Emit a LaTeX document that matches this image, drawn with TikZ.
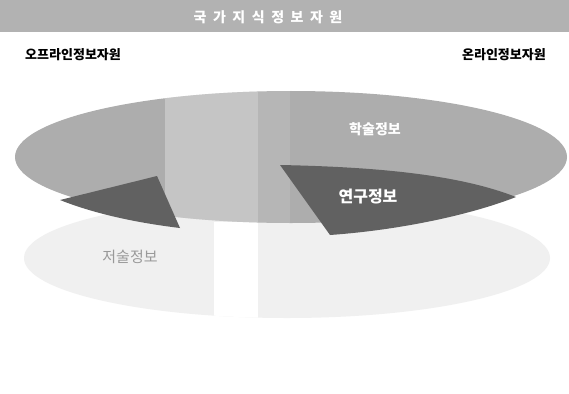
\documentclass[tikz,border=0pt]{standalone}
\usepackage{fontspec}
\newfontfamily\kr{Noto Sans CJK KR}
\begin{document}
\begin{tikzpicture}[x=1pt,y=-1pt,
  header/.style={fill=black!30,draw=none},
  side/.style={font=\kr\bfseries\fontsize{13}{15}\selectfont,text=black,inner sep=0pt},
  inlabel/.style={font=\kr\bfseries\fontsize{14}{16}\selectfont,text=white,inner sep=0pt}]
\useasboundingbox (0,0) rectangle (569,393);
\fill[white] (0,0) rectangle (569,393);
% header
\node[header,minimum width=569pt,minimum height=32pt,anchor=north west,inner sep=0pt] (hdr) at (0,0) {};
\node[font=\kr\bfseries\fontsize{14}{16}\selectfont,text=white,inner sep=0pt] (title) at (268,17) {국\hspace{6.5pt}가\hspace{6.5pt}지\hspace{6.5pt}식\hspace{6.5pt}정\hspace{6.5pt}보\hspace{6.5pt}자\hspace{6.5pt}원};
\node[side,anchor=west] (off) at (25,55) {오프라인정보자원};
\node[side,anchor=east] (on) at (546,55) {온라인정보자원};
% lower ellipse
\fill[black!6] (287,258) ellipse [x radius=263, y radius=60];
\begin{scope}
  \clip (287,258) ellipse [x radius=263, y radius=60];
  \fill[white] (214,222) rectangle (258,330);
\end{scope}
% upper ellipse
\fill[black!32] (291,157) ellipse [x radius=276, y radius=66];
\begin{scope}
  \clip (291,157) ellipse [x radius=276, y radius=66];
  \fill[white,opacity=0.3] (165,80) rectangle (258,235);
  \fill[white,opacity=0.12] (258,80) rectangle (290,235);
\end{scope}
% dark left triangle
\fill[black!62] (60,200) -- (157,176) -- (180,228) .. controls (130,222) and (90,212) .. cycle;
% dark right region
\fill[black!62] (280,165) .. controls (380,167) and (460,175) .. (516,197)
  .. controls (470,215) and (400,230) .. (330,235) -- cycle;
\node[inlabel] (acad) at (375,129) {학술정보};
\node[inlabel,font=\kr\bfseries\fontsize{16}{18}\selectfont] (res) at (368,197) {연구정보};
\node[inlabel,text=black!40,font=\kr\fontsize{15}{17}\selectfont] (wri) at (130,257) {저술정보};
\end{tikzpicture}
\end{document}
